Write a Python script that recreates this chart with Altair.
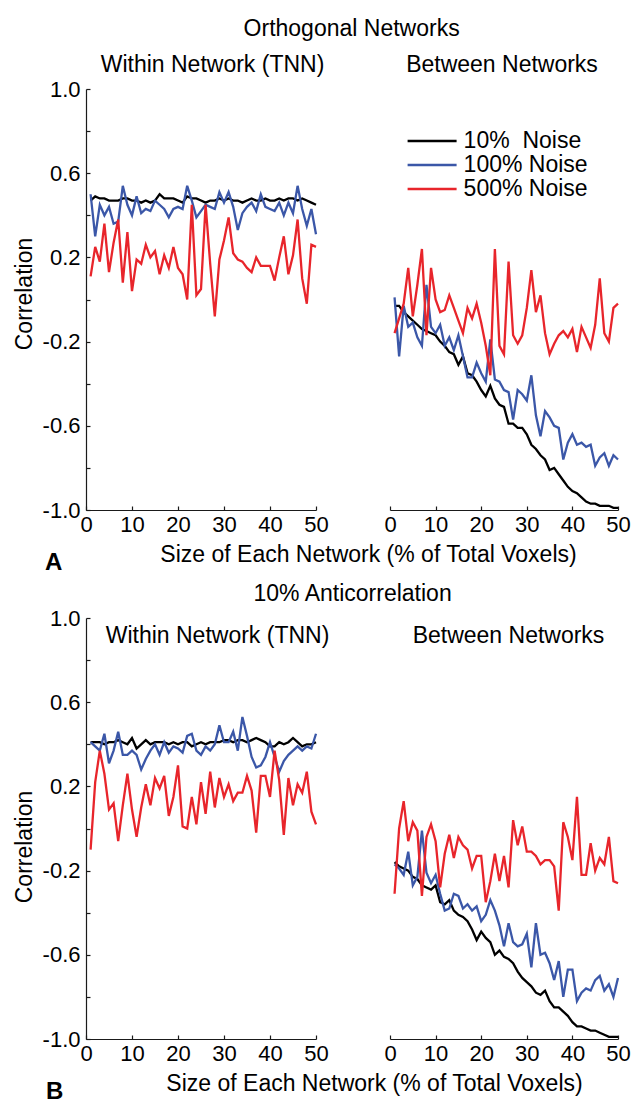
import altair as alt
import pandas as pd

FONT = "Liberation Sans"

sizes = list(range(1, 51))
series_names = ["10%\u00a0 Noise", "100% Noise", "500% Noise"]
series_colors = ["#000000", "#3b57a8", "#e8252b"]

x_ticks = [0, 10, 20, 30, 40, 50]
y_labels = [-1.0, -0.6, -0.2, 0.2, 0.6, 1.0]
y_ticks = [-1.0, -0.8, -0.6, -0.4, -0.2, 0.0, 0.2, 0.4, 0.6, 0.8, 1.0]

# ---- A: Orthogonal Networks, within network (TNN)
a_within_10 = [0.47, 0.49, 0.48, 0.48, 0.47, 0.47, 0.47, 0.48, 0.48, 0.47,
               0.47, 0.46, 0.47, 0.46, 0.47, 0.50, 0.48, 0.48, 0.48, 0.47,
               0.46, 0.49, 0.48, 0.48, 0.47, 0.46, 0.47, 0.47, 0.48, 0.47,
               0.48, 0.47, 0.47, 0.46, 0.47, 0.48, 0.47, 0.47, 0.48, 0.47,
               0.47, 0.48, 0.47, 0.48, 0.48, 0.47, 0.48, 0.47, 0.46, 0.45]
a_within_100 = [0.50, 0.30, 0.45, 0.40, 0.44, 0.36, 0.37, 0.54, 0.45, 0.40,
                0.49, 0.41, 0.43, 0.42, 0.47, 0.45, 0.43, 0.39, 0.43, 0.44,
                0.43, 0.54, 0.47, 0.39, 0.42, 0.45, 0.44, 0.43, 0.51, 0.46,
                0.51, 0.44, 0.33, 0.41, 0.44, 0.46, 0.42, 0.50, 0.44, 0.43,
                0.42, 0.46, 0.40, 0.46, 0.41, 0.54, 0.43, 0.35, 0.43, 0.31]
a_within_500 = [0.11, 0.25, 0.18, 0.36, 0.13, 0.27, 0.38, 0.08, 0.32, 0.04,
                0.19, 0.17, 0.26, 0.20, 0.23, 0.12, 0.21, 0.15, 0.25, 0.15,
                0.12, 0.00, 0.45, 0.02, 0.05, 0.45, 0.17, -0.08, 0.19, 0.28,
                0.39, 0.22, 0.19, 0.18, 0.15, 0.13, 0.20, 0.16, 0.16, 0.16,
                0.09, 0.20, 0.30, 0.12, 0.21, 0.38, 0.10, -0.02, 0.26, 0.25]

# ---- A: Orthogonal Networks, between networks
a_between_10 = [-0.03, -0.03, -0.06, -0.08, -0.10, -0.12, -0.14, -0.15, -0.16, -0.17,
                -0.20, -0.22, -0.25, -0.26, -0.31, -0.27, -0.35, -0.36, -0.39, -0.43,
                -0.46, -0.41, -0.47, -0.50, -0.51, -0.59, -0.59, -0.61, -0.61, -0.64,
                -0.69, -0.71, -0.74, -0.76, -0.81, -0.80, -0.83, -0.86, -0.89, -0.91,
                -0.92, -0.94, -0.96, -0.97, -0.97, -0.98, -0.98, -0.98, -0.99, -0.99]
a_between_100 = [0.01, -0.27, -0.03, -0.13, -0.11, -0.18, -0.22, 0.07, -0.13, -0.16,
                 -0.12, -0.22, -0.18, -0.24, -0.17, -0.27, -0.37, -0.37, -0.30, -0.35,
                 -0.39, -0.19, -0.38, -0.39, -0.43, -0.44, -0.57, -0.43, -0.45, -0.48,
                 -0.36, -0.55, -0.65, -0.53, -0.56, -0.60, -0.61, -0.76, -0.68, -0.64,
                 -0.69, -0.68, -0.70, -0.69, -0.79, -0.75, -0.73, -0.79, -0.74, -0.76]
a_between_500 = [-0.16, -0.09, -0.02, 0.15, -0.08, 0.07, 0.24, -0.17, 0.15, 0.00,
                 -0.06, -0.05, 0.02, -0.04, -0.10, -0.16, -0.04, -0.09, -0.02, -0.11,
                 -0.22, -0.36, 0.24, -0.22, -0.26, 0.18, -0.17, -0.21, -0.17, -0.04,
                 0.14, -0.06, 0.02, -0.16, -0.26, -0.21, -0.17, -0.15, -0.18, -0.14,
                 -0.25, -0.13, -0.18, -0.23, -0.12, 0.10, -0.16, -0.20, -0.04, -0.02]

# ---- B: 10% Anticorrelation, within network (TNN)
b_within_10 = [0.41, 0.41, 0.41, 0.40, 0.41, 0.41, 0.42, 0.41, 0.40, 0.43,
               0.38, 0.40, 0.42, 0.40, 0.41, 0.41, 0.41, 0.40, 0.41, 0.40,
               0.41, 0.41, 0.39, 0.40, 0.41, 0.40, 0.41, 0.41, 0.41, 0.42,
               0.42, 0.41, 0.42, 0.42, 0.41, 0.42, 0.43, 0.42, 0.41, 0.39,
               0.39, 0.41, 0.40, 0.41, 0.43, 0.41, 0.39, 0.40, 0.40, 0.41]
b_within_100 = [0.41, 0.39, 0.37, 0.45, 0.31, 0.37, 0.46, 0.35, 0.35, 0.37,
                0.35, 0.28, 0.33, 0.37, 0.40, 0.35, 0.41, 0.36, 0.39, 0.38,
                0.36, 0.44, 0.45, 0.37, 0.35, 0.39, 0.37, 0.40, 0.49, 0.41,
                0.41, 0.46, 0.37, 0.53, 0.44, 0.34, 0.29, 0.30, 0.34, 0.41,
                0.34, 0.27, 0.32, 0.35, 0.37, 0.39, 0.37, 0.39, 0.38, 0.45]
b_within_500 = [-0.10, 0.22, 0.37, 0.26, 0.09, 0.12, -0.06, 0.11, 0.26, 0.09,
                -0.04, 0.10, 0.21, 0.11, 0.24, 0.19, 0.25, 0.06, 0.15, 0.30,
                0.01, 0.00, 0.15, 0.02, 0.22, 0.07, 0.27, 0.10, 0.24, 0.15,
                0.21, 0.13, 0.17, 0.17, 0.25, 0.18, -0.02, 0.25, 0.25, 0.15,
                0.37, 0.23, -0.03, 0.24, 0.11, 0.21, 0.17, 0.27, 0.08, 0.02]

# ---- B: 10% Anticorrelation, between networks
b_between_10 = [-0.16, -0.18, -0.19, -0.20, -0.23, -0.24, -0.27, -0.28, -0.29, -0.27,
                -0.35, -0.36, -0.34, -0.39, -0.41, -0.42, -0.44, -0.48, -0.53, -0.49,
                -0.52, -0.54, -0.60, -0.58, -0.61, -0.62, -0.64, -0.68, -0.71, -0.73,
                -0.75, -0.78, -0.79, -0.77, -0.82, -0.85, -0.85, -0.87, -0.89, -0.92,
                -0.94, -0.94, -0.95, -0.96, -0.96, -0.97, -0.98, -0.99, -0.99, -0.99]
b_between_100 = [-0.17, -0.19, -0.22, -0.11, -0.27, -0.23, -0.01, -0.21, -0.26, -0.22,
                 -0.31, -0.39, -0.38, -0.31, -0.32, -0.38, -0.36, -0.39, -0.37, -0.44,
                 -0.41, -0.34, -0.39, -0.46, -0.56, -0.45, -0.54, -0.56, -0.55, -0.50,
                 -0.66, -0.45, -0.60, -0.59, -0.64, -0.72, -0.63, -0.80, -0.67, -0.67,
                 -0.82, -0.78, -0.76, -0.77, -0.72, -0.70, -0.77, -0.74, -0.80, -0.71]
b_between_500 = [-0.31, -0.00, 0.13, -0.06, 0.03, -0.01, -0.32, -0.04, 0.02, -0.06,
                 -0.28, -0.12, -0.03, -0.14, -0.04, -0.08, -0.10, -0.19, -0.13, -0.13,
                 -0.35, -0.25, -0.12, -0.25, -0.13, -0.28, 0.04, -0.08, 0.01, -0.11,
                 -0.11, -0.13, -0.17, -0.15, -0.15, -0.18, -0.39, 0.03, -0.04, -0.15,
                 0.15, -0.22, -0.22, -0.07, -0.20, -0.14, -0.17, -0.04, -0.25, -0.26]


def long_df(s10, s100, s500):
    rows = []
    for name, vals in zip(series_names, (s10, s100, s500)):
        for s, v in zip(sizes, vals):
            rows.append({"size": s, "corr": v, "series": name})
    return pd.DataFrame(rows)


W_LEFT, W_RIGHT, H = 230, 228, 421
AXIS_COLOR = "#1a1a1a"
LABEL_EXPR = "datum.value < 0 ? '-' + format(-datum.value, '.1f') : format(datum.value, '.1f')"


def scales():
    return (alt.Scale(domain=[0, 50], nice=False, zero=False),
            alt.Scale(domain=[-1, 1], nice=False),
            alt.Scale(domain=series_names, range=series_colors))


def panel(df, subtitle, sub_dx, sub_offset, left, x_title=None, x_title_x=0,
          letter=None, letter_x=0, letter_y=0, y_title_y=0, legend=None):
    xs, ys, cs = scales()
    x_kw = dict(orient="bottom", values=x_ticks, ticks=False, domain=True,
                domainColor=AXIS_COLOR, domainWidth=1.2, labelFont=FONT,
                labelFontSize=22, labelColor="black", labelPadding=4,
                labelFlush=False, labelOverlap=False, labelAngle=0, grid=False,
                format="d")
    if x_title:
        x_kw.update(title=x_title, titleFont=FONT, titleFontSize=23,
                    titleFontWeight="normal", titleColor="black",
                    titleX=x_title_x, titleY=51, titleAlign="center",
                    titleBaseline="alphabetic")
    else:
        x_kw.update(title=None)
    tx_kw = dict(orient="bottom", values=x_ticks, ticks=True, tickSize=4,
                 tickColor=AXIS_COLOR, tickWidth=1.2, domain=False, labels=False,
                 grid=False, offset=-4)
    if letter:
        tx_kw.update(title=letter, titleFont=FONT, titleFontSize=24,
                     titleFontWeight="bold", titleColor="black",
                     titleX=letter_x, titleY=letter_y, titleAlign="left",
                     titleBaseline="alphabetic")
    else:
        tx_kw.update(title=None)

    if left:
        y_axis = alt.Axis(orient="left", values=y_labels, labelExpr=LABEL_EXPR,
                          ticks=False, domain=True, domainColor=AXIS_COLOR,
                          domainWidth=1.2, labelFont=FONT, labelFontSize=22,
                          labelColor="black", labelPadding=6, labelFlush=False,
                          labelOverlap=False, grid=False, title="Correlation",
                          titleFont=FONT, titleFontSize=23, titleFontWeight="normal",
                          titleColor="black", titleAngle=270, titleX=-55,
                          titleY=y_title_y, titleAlign="center",
                          titleBaseline="alphabetic")
        ty_axis = alt.Axis(orient="left", values=y_ticks, ticks=True, tickSize=4,
                           tickColor=AXIS_COLOR, tickWidth=1.2, domain=False,
                           labels=False, grid=False, offset=-4, title=None)
    else:
        y_axis = None
        ty_axis = None

    lines = alt.Chart(df).mark_line(strokeWidth=2.3).encode(
        x=alt.X("size:Q", scale=xs, axis=alt.Axis(**x_kw)),
        y=alt.Y("corr:Q", scale=ys, axis=y_axis),
        color=alt.Color("series:N", scale=cs, legend=legend),
    )
    tick_layer = alt.Chart(df).mark_line(strokeOpacity=0).encode(
        x=alt.X("size:Q", scale=xs, axis=alt.Axis(**tx_kw)),
        y=alt.Y("corr:Q", scale=ys, axis=ty_axis),
    )
    return alt.layer(lines, tick_layer).resolve_axis(
        x="independent", y="independent"
    ).properties(
        width=W_LEFT if left else W_RIGHT, height=H,
        title=alt.TitleParams(subtitle, font=FONT, fontSize=23, fontWeight="normal",
                              color="black", anchor="middle", dx=sub_dx,
                              offset=sub_offset, baseline="alphabetic"),
    )


legend_a = alt.Legend(orient="none", legendX=30.6, legendY=40.5, title=None,
                      symbolType="M-2.45,0L2.45,0", symbolSize=400,
                      symbolStrokeWidth=2.5, labelFont=FONT, labelFontSize=23,
                      labelColor="black", labelOffset=20, rowPadding=0,
                      padding=0, labelLimit=300)

a_left = panel(long_df(a_within_10, a_within_100, a_within_500),
               "Within Network (TNN)", 11.5, -17, True,
               x_title="Size of Each Network (% of Total Voxels)", x_title_x=282,
               letter="A", letter_x=-41.5, letter_y=63, y_title_y=204.5)
a_right = panel(long_df(a_between_10, a_between_100, a_between_500),
                "Between Networks", -2, -6, False, legend=legend_a)
b_left = panel(long_df(b_within_10, b_within_100, b_within_500),
               "Within Network (TNN)", 16.5, -59, True,
               x_title="Size of Each Network (% of Total Voxels)", x_title_x=288,
               letter="B", letter_x=-40.5, letter_y=63, y_title_y=228.5)
b_right = panel(long_df(b_between_10, b_between_100, b_between_500),
                "Between Networks", 4.5, -48, False)

row_a = alt.hconcat(
    a_left, a_right, spacing=74, bounds="flush",
    title=alt.TitleParams("Orthogonal Networks", font=FONT, fontSize=23,
                          fontWeight="normal", color="black", anchor="middle",
                          dx=30, offset=-5.4, baseline="alphabetic"),
).resolve_scale(color="independent")

row_b = alt.hconcat(
    b_left, b_right, spacing=74, bounds="flush",
    title=alt.TitleParams("10% Anticorrelation", font=FONT, fontSize=23,
                          fontWeight="normal", color="black", anchor="middle",
                          dx=31, offset=-17, baseline="alphabetic"),
).resolve_scale(color="independent")

chart = alt.vconcat(row_a, row_b, spacing=9).resolve_scale(
    color="independent"
).properties(
    padding={"left": 5, "top": 10, "right": 0, "bottom": 0},
    background="white",
).configure_view(strokeWidth=0)

chart.save("out.html", embed_options={"renderer": "svg", "actions": False})
